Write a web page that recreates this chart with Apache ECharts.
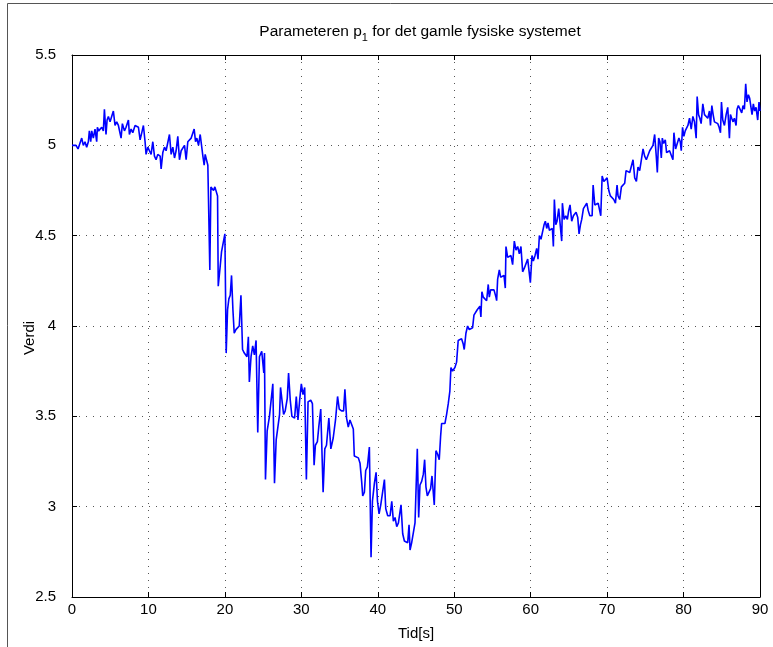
<!DOCTYPE html>
<html>
<head>
<meta charset="utf-8">
<script src="https://cdn.jsdelivr.net/npm/echarts@6/dist/echarts.min.js"></script>
<style>
  html, body { margin: 0; padding: 0; background: #fff; }
  #chart { width: 773px; height: 647px; }
</style>
</head>
<body>
<div id="chart"></div>
<script>
// Parameter p1 over time [s], sampled as [time, value] pairs, split by phase.
const stabilStart = [
  [0,5.0],[0.26,4.99],[0.52,5.0],[0.79,4.98],[1.05,4.98],[1.27,5.04],[1.48,5.0],[1.7,5.02],[1.92,4.99],
  [2.14,5.02],[2.27,5.08],[2.45,5.02],[2.58,5.08],[2.79,5.04],[3.01,5.09],[3.23,5.02],[3.32,5.1],[3.49,5.08],
  [3.67,5.07],[3.89,5.1],[4.1,5.08],[4.24,5.2],[4.45,5.06],[4.59,5.14],[4.76,5.16],[4.98,5.13],[5.2,5.12],
  [5.41,5.19],[5.63,5.11],[5.85,5.13],[6.07,5.11],[6.29,5.12],[6.42,5.04],[6.59,5.12],[6.86,5.08],[7.07,5.1],
  [7.38,5.14],[7.51,5.06],[7.73,5.09],[7.95,5.07],[8.25,5.11],[8.47,5.12],[8.69,5.1],[8.91,5.03],[9.13,5.07],
  [9.34,5.11],[9.56,5.02],[9.69,4.95],[9.91,4.99],[10.13,4.97],[10.35,4.95],[10.57,5.02],[10.79,4.94],[11.0,4.92],
  [11.22,4.95],[11.53,4.94],[11.66,4.87],[11.88,4.96],[12.1,4.99],[12.31,4.97],[12.53,4.98],[12.75,5.06],[12.97,4.95],
  [13.19,4.99],[13.41,4.93],[13.62,4.97],[13.84,5.05],[14.06,4.92],[14.28,4.97],[14.5,4.97],[14.72,5.0],[14.93,4.92],
  [15.15,5.02],[15.37,5.02],[15.59,5.04],[15.81,5.03],[15.98,5.09],[16.16,5.02],[16.33,5.04],[16.55,5.0],[16.77,5.06],
  [16.99,5.07],[17.12,4.94],[17.29,4.89],[17.42,4.95],[17.64,4.94]
];

const fall = [
  [17.77,4.89],[17.9,4.89],[18.03,4.31],[18.17,4.77],[18.34,4.77],[18.52,4.75],[18.69,4.77],[18.91,4.78],[19.04,4.72],
  [19.13,4.22],[19.34,4.31],[19.56,4.41],[19.74,4.42],[20.0,4.51],[20.17,3.85],[20.35,4.09],[20.52,4.15],[20.7,4.17],
  [20.87,4.28],[21.05,4.09],[21.22,3.96],[21.44,3.98],[21.66,3.99],[21.88,4.0],[22.1,4.17],
  [22.31,3.87],[22.54,3.85],[22.89,3.83],[23.07,3.94],[23.2,3.69],[23.42,3.83],[23.64,3.89],[23.86,3.84],[24.08,3.92],
  [24.3,3.41],[24.52,3.83],[24.82,3.86],[25.09,3.74],[25.18,3.85],[25.31,3.15],[25.53,3.42],[25.83,3.5],[26.05,3.49],
  [26.27,3.68],[26.49,3.13],[26.71,3.37],[26.93,3.38],[27.15,3.51],[27.28,3.66],[27.5,3.66],[27.68,3.51],[27.89,3.53],
  [28.16,3.6],[28.33,3.74],[28.55,3.59],[28.77,3.5],[29.12,3.49],[29.34,3.61],[29.56,3.48],[29.78,3.59]
];

const bunn = [
  [30.0,3.68],[30.22,3.62],[30.44,3.66],[30.66,3.15],[30.88,3.58],[31.23,3.59],[31.45,3.57],[31.67,3.23],[31.84,3.34],
  [32.1,3.36],[32.28,3.44],[32.54,3.54],[32.85,3.08],[33.07,3.32],[33.29,3.34],[33.6,3.49],[33.86,3.32],[34.17,3.38],
  [34.47,3.48],[34.74,3.61],[34.96,3.54],[35.26,3.53],[35.53,3.53],[35.7,3.65],[35.92,3.49],[36.14,3.44],[36.36,3.48],
  [36.58,3.49],[36.8,3.43],[36.93,3.28],[37.1,3.27],[37.46,3.27],[37.68,3.24],[37.89,3.14],[38.03,3.06],[38.25,3.08],
  [38.42,3.2],[38.64,3.22],[38.9,3.33],[39.12,2.72],[39.3,3.03],[39.56,3.13],[39.78,3.19],[39.96,3.03],
  [40.17,2.96],[40.39,3.01],[40.65,3.01],[40.87,3.15],[41.04,2.99],[41.3,2.95],[41.61,2.95],[41.83,3.03],[42.04,2.92],
  [42.26,2.94],[42.48,2.89],[42.7,2.91],[42.91,2.9],[43.04,3.01],[43.26,2.85],[43.48,2.81],[43.7,2.81],[43.91,2.8],
  [44.09,2.9],[44.22,2.76],[44.43,2.8],[44.65,2.8],[44.87,2.91],[45.0,2.91],[45.17,3.32],[45.35,2.94],[45.52,3.12],
  [45.74,3.14],[45.96,3.18],[46.13,3.26],[46.3,3.11],[46.48,3.06],[46.65,3.05],[46.91,3.1],[47.09,3.17],[47.26,3.16],
  [47.39,3.01],[47.61,3.31],[47.83,3.29],[48.04,3.26],[48.22,3.39],[48.35,3.46],[48.57,3.47],[48.78,3.46],[49.0,3.51],
  [49.22,3.57],[49.43,3.64],[49.57,3.77],[49.78,3.75]
];

const stigning = [
  [50.09,3.77],[50.31,3.8],[50.52,3.92],[50.74,3.93],[50.96,3.93],[51.18,3.9],[51.31,3.87],[51.53,3.96],[51.75,4.0],
  [51.97,3.98],[52.18,3.98],[52.4,3.99],[52.58,4.06],[52.79,4.07],[53.01,4.09],[53.23,4.08],[53.36,4.11],[53.49,4.05],
  [53.62,4.19],[53.8,4.16],[54.02,4.15],[54.24,4.14],[54.45,4.23],[54.59,4.16],[54.76,4.2],[54.98,4.19],[55.2,4.2],
  [55.46,4.16],[55.55,4.14],[55.68,4.26],[55.9,4.31],[56.07,4.27],[56.29,4.28],[56.51,4.28],[56.68,4.21],[56.77,4.44],
  [56.99,4.38],[57.21,4.38],[57.42,4.39],[57.64,4.34],[57.86,4.47],[58.08,4.42],[58.3,4.44],[58.52,4.4],[58.73,4.44],
  [58.95,4.3],[59.17,4.32],[59.39,4.32],[59.61,4.37],[59.83,4.36],[59.96,4.24],[60.17,4.39],[60.35,4.36],[60.57,4.39],
  [60.79,4.43],[60.96,4.37],[61.14,4.5],[61.35,4.48],[61.57,4.49],[61.75,4.56],[61.92,4.58],[62.1,4.54],[62.27,4.57],
  [62.45,4.53],[62.66,4.54],[62.84,4.54],[62.97,4.44],[63.1,4.7],[63.28,4.56],[63.45,4.58],[63.67,4.65],[63.84,4.64],
  [64.06,4.47],[64.15,4.68],[64.37,4.59],[64.59,4.61],[64.8,4.59],[64.98,4.64],[65.15,4.67],[65.37,4.58],[65.59,4.61],
  [65.76,4.6],[65.94,4.63],[66.16,4.6],[66.33,4.51],[66.51,4.56],[66.68,4.59],[66.9,4.65],[67.12,4.64],[67.34,4.68]
];

const stabilSlutt = [
  [67.52,4.64],[67.74,4.61],[67.87,4.6],[68.04,4.61],[68.17,4.78],[68.39,4.67],[68.61,4.68],[68.83,4.68],[69.04,4.67],
  [69.17,4.61],[69.35,4.83],[69.57,4.8],[69.78,4.81],[70.0,4.82],[70.22,4.75],[70.43,4.72],[70.65,4.73],[70.87,4.7],
  [71.09,4.68],[71.3,4.78],[71.43,4.72],[71.65,4.7],[71.87,4.77],[72.09,4.76],[72.3,4.79],[72.48,4.86],[72.74,4.86],
  [72.96,4.85],[73.17,4.86],[73.39,4.92],[73.61,4.82],[73.83,4.8],[74.04,4.88],[74.26,4.86],[74.48,4.92],[74.7,4.98],
  [74.91,4.94],[75.13,4.92],[75.35,4.92],[75.57,4.97],[75.78,4.96],[76.0,5.0],[76.22,5.06],[76.43,4.94],[76.57,4.85],
  [76.74,5.04],[76.91,5.02],[77.09,4.93],[77.22,5.04],[77.39,5.01],[77.61,5.03],[77.78,4.96],[77.96,4.97],[78.17,4.97],
  [78.39,4.98],[78.61,4.92],[78.74,5.07],[78.96,4.98],[79.17,4.97],[79.39,5.04],[79.57,5.02],[79.7,4.97],[79.87,5.1],
  [80.04,5.05],[80.22,5.08],[80.39,5.07],[80.57,5.11],[80.78,5.15],[81.0,5.09],[81.22,5.16],[81.43,5.13],[81.65,5.04],
  [81.78,5.27],[81.96,5.17],[82.13,5.15],[82.3,5.12],[82.52,5.23],[82.74,5.17],[82.96,5.18],[83.17,5.15],[83.39,5.19],
  [83.52,5.11],[83.7,5.22],[83.87,5.17],[84.04,5.13],[84.26,5.14],[84.48,5.12],[84.65,5.1],[84.83,5.07],[84.96,5.24],
  [85.13,5.14],[85.35,5.11],[85.57,5.17],[85.78,5.21],[86.0,5.04],[86.13,5.17],[86.3,5.15],[86.48,5.13],[86.65,5.15],
  [86.87,5.11],[87.0,5.2],[87.17,5.22],[87.39,5.21],[87.61,5.18],[87.78,5.22],[87.96,5.2],[88.13,5.34],[88.3,5.24],
  [88.48,5.28],[88.65,5.26],[88.83,5.27],[88.96,5.17],[89.13,5.23],[89.3,5.19],[89.48,5.21],[89.7,5.14],[89.87,5.24],
  [90.0,5.19]
];

const p1 = [].concat(stabilStart, fall, bunn, stigning, stabilSlutt);

const FONT = '"Liberation Sans", Arial, Helvetica, sans-serif';
const gridStyle = { show: true, lineStyle: { color: '#555', width: 1, type: [1, 6] } };
const tickIn = { show: true, inside: true, length: 5, lineStyle: { color: '#000', width: 1 } };
const axisLineBlack = { show: true, onZero: false, lineStyle: { color: '#000', width: 1 } };

const chart = echarts.init(document.getElementById('chart'), null, { renderer: 'canvas' });
chart.setOption({
  animation: false,
  backgroundColor: '#fff',
  title: {
    text: 'Parameteren p{s|1} for det gamle fysiske systemet',
    left: 415,
    top: 16,
    textAlign: 'center',
    textStyle: {
      fontFamily: FONT, fontSize: 15.5, fontWeight: 'normal', color: '#000',
      rich: { s: { fontFamily: FONT, fontSize: 11, color: '#000', padding: [11, 0, 0, 0] } }
    }
  },
  grid: { left: 72, top: 55, width: 688, height: 542, containLabel: false },
  xAxis: [
    {
      type: 'value', min: 0, max: 90, interval: 10, position: 'bottom',
      name: 'Tid[s]', nameLocation: 'middle', nameGap: 29,
      nameTextStyle: { fontFamily: FONT, fontSize: 15, color: '#000' },
      axisLine: axisLineBlack, axisTick: tickIn,
      axisLabel: { fontFamily: FONT, fontSize: 15, color: '#000', margin: 5 },
      splitLine: gridStyle
    },
    {
      type: 'value', min: 0, max: 90, interval: 10, position: 'top',
      axisLine: axisLineBlack, axisTick: tickIn,
      axisLabel: { show: false }, splitLine: { show: false }
    }
  ],
  yAxis: [
    {
      type: 'value', min: 2.5, max: 5.5, interval: 0.5, position: 'left',
      name: 'Verdi', nameLocation: 'middle', nameGap: 35, nameMoveOverlap: false,
      nameTextStyle: { fontFamily: FONT, fontSize: 15, color: '#000', padding: [0, 24, 0, 0] },
      axisLine: axisLineBlack, axisTick: tickIn,
      axisLabel: { fontFamily: FONT, fontSize: 15, color: '#000', margin: 16 },
      splitLine: gridStyle
    },
    {
      type: 'value', min: 2.5, max: 5.5, interval: 0.5, position: 'right',
      axisLine: axisLineBlack, axisTick: tickIn,
      axisLabel: { show: false }, splitLine: { show: false }
    }
  ],
  graphic: [
    {
      type: 'polyline', silent: true,
      shape: { points: [[7.5, 647], [7.5, 3.5], [773, 3.5]] },
      style: { stroke: '#555', lineWidth: 1, fill: null }
    }
  ],
  series: [
    {
      type: 'line', xAxisIndex: 0, yAxisIndex: 0,
      data: p1, showSymbol: false, symbol: 'none', smooth: false,
      lineStyle: { color: '#0000ff', width: 1.6 }
    }
  ]
});
</script>
</body>
</html>
